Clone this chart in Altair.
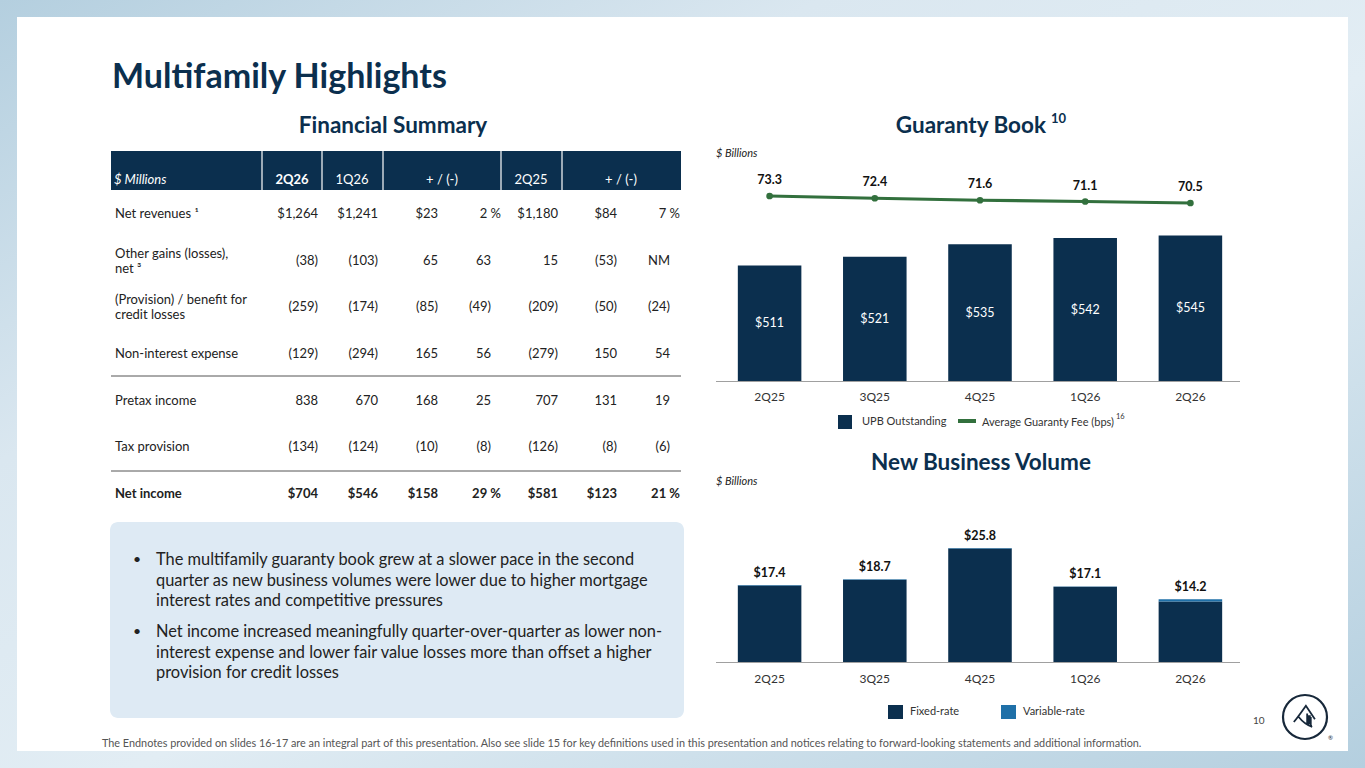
import altair as alt
import pandas as pd

# ---- data -------------------------------------------------------------
quarters = ["2Q25", "3Q25", "4Q25", "1Q26", "2Q26"]
upb_outstanding = [511, 521, 535, 542, 545]          # $ billions
avg_guaranty_fee = [73.3, 72.4, 71.6, 71.1, 70.5]    # bps
nbv_fixed = [17.3, 18.6, 25.7, 17.0, 13.7]           # $ billions
nbv_variable = [0.1, 0.1, 0.1, 0.1, 0.5]             # $ billions

row_labels = [
    "Net revenues \u00b9",
    "Other gains (losses),\nnet \u00b3",
    "(Provision) / benefit for\ncredit losses",
    "Non-interest expense",
    "Pretax income",
    "Tax provision",
    "Net income",
]
col_2q26 = ["$1,264", "(38)", "(259)", "(129)", "838", "(134)", "$704"]
col_1q26 = ["$1,241", "(103)", "(174)", "(294)", "670", "(124)", "$546"]
col_qoq_amt = ["$23", "65", "(85)", "165", "168", "(10)", "$158"]
col_qoq_pct = ["2 %", "63", "(49)", "56", "25", "(8)", "29 %"]
col_2q25 = ["$1,180", "15", "(209)", "(279)", "707", "(126)", "$581"]
col_yoy_amt = ["$84", "(53)", "(50)", "150", "131", "(8)", "$123"]
col_yoy_pct = ["7 %", "NM", "(24)", "54", "19", "(6)", "21 %"]
header_labels = ["$ Millions", "2Q26", "1Q26", "+ / (-)", "2Q25", "+ / (-)"]

bullets = [
    "The multifamily guaranty book grew at a slower pace in the second\n"
    "quarter as new business volumes were lower due to higher mortgage\n"
    "interest rates and competitive pressures",
    "Net income increased meaningfully quarter-over-quarter as lower non-\n"
    "interest expense and lower fair value losses more than offset a higher\n"
    "provision for credit losses",
]
footnote = ("The Endnotes provided on slides 16-17 are an integral part of this presentation. "
            "Also see slide 15 for key definitions used in this presentation and notices "
            "relating to forward-looking statements and additional information.")

# ---- styling ------------------------------------------------------------
FONT = "Lato"
NAVY = "#0b2f4e"
GREEN = "#32703d"
VAR_BLUE = "#1f70a8"
TEXT = "#222222"
W, H = 1365, 768

one = pd.DataFrame({"k": [0]})
base = alt.Chart(one)


def box(x0, x1, y0, y1, **kw):
    return base.mark_rect(**kw).encode(
        x=alt.value(x0), x2=alt.value(x1), y=alt.value(y0), y2=alt.value(y1))


def hline(x0, x1, y, color, width=1):
    return base.mark_rule(color=color, strokeWidth=width).encode(
        x=alt.value(x0), x2=alt.value(x1), y=alt.value(y))


def vline(x, y0, y1, color, width=1):
    return base.mark_rule(color=color, strokeWidth=width).encode(
        x=alt.value(x), y=alt.value(y0), y2=alt.value(y1))


def label(x, y, text, size=12, color=TEXT, align="left", weight="normal", style="normal", **kw):
    return base.mark_text(text=text, font=FONT, fontSize=size, color=color, align=align,
                          baseline="middle", fontWeight=weight, fontStyle=style, **kw).encode(
        x=alt.value(x), y=alt.value(y))


layers = []

# background and card
bg = alt.Gradient(gradient="linear", x1=0, y1=0, x2=1, y2=1, stops=[
    alt.GradientStop(color="#b4cfdf", offset=0),
    alt.GradientStop(color="#dae7f0", offset=0.3),
    alt.GradientStop(color="#e2edf4", offset=0.55),
    alt.GradientStop(color="#b4cfdf", offset=1),
])
layers.append(box(0, W, 0, H, color=bg))
layers.append(box(17, 1348, 17, 751, color="white"))

# titles
layers.append(label(112, 78, "Multifamily Highlights", size=34, color=NAVY, weight="bold"))
layers.append(label(393, 126, "Financial Summary", size=22.5, color=NAVY, weight="bold", align="center"))
layers.append(label(1046, 126, "Guaranty Book", size=22.5, color=NAVY, weight="bold", align="right"))
layers.append(label(1051, 119, "10", size=13, color=NAVY, weight="bold"))
layers.append(label(981, 463, "New Business Volume", size=22.5, color=NAVY, weight="bold", align="center"))

# ---- financial summary table --------------------------------------------
layers.append(box(111, 681, 151, 190, color=NAVY))
for xd in [262, 322, 383, 501, 562]:
    layers.append(vline(xd, 151, 190, "white", 1.2))
header_x = [114, 292, 352, 442, 531, 621]
for i, (hx, ht) in enumerate(zip(header_x, header_labels)):
    layers.append(label(hx, 180, ht, size=13, color="white",
                        align="left" if i == 0 else "center",
                        weight="bold" if ht == "2Q26" else "normal",
                        style="italic" if i == 0 else "normal"))
layers.append(hline(111, 681, 376, "#555555", 1))
layers.append(hline(111, 681, 471, "#555555", 1))

n_rows = len(row_labels)
table_cols = [
    ("label", row_labels, 115, "left"),
    ("c2q26", col_2q26, 318, "right"),
    ("c1q26", col_1q26, 378, "right"),
    ("cqa", col_qoq_amt, 438, "right"),
    ("cqp", col_qoq_pct, 501, "right"),
    ("c2q25", col_2q25, 558, "right"),
    ("cya", col_yoy_amt, 617, "right"),
    ("cyp", col_yoy_pct, 680, "right"),
]
row_y = alt.Y("row:O", scale=alt.Scale(type="point", domain=list(range(n_rows)),
                                        range=[214, 494], padding=0), axis=None)
for name, values, cx, align in table_cols:
    df = pd.DataFrame({
        "row": list(range(n_rows)),
        "txt": values,
        "bold": [r == n_rows - 1 for r in range(n_rows)],
        "pct": [v.endswith("%") for v in values],
        "two": ["\n" in v for v in values],
    })
    for bold in (False, True):
        sub = df[df["bold"] == bold]
        if name in ("cqp", "cyp"):
            # integers sit left of the percent sign column
            for pct in (True, False):
                part = sub[sub["pct"] == pct]
                if part.empty:
                    continue
                layers.append(alt.Chart(part).mark_text(
                    font=FONT, fontSize=13, color=TEXT, align=align, baseline="middle",
                    fontWeight="bold" if bold else "normal").encode(
                    x=alt.value(cx if pct else cx - 10), y=row_y, text="txt:N"))
        else:
            for two in (False, True):
                part = sub[sub["two"] == two]
                if part.empty:
                    continue
                layers.append(alt.Chart(part).mark_text(
                    font=FONT, fontSize=13, color=TEXT, align=align, baseline="middle",
                    lineBreak="\n", lineHeight=15, dy=-7 if two else 0,
                    fontWeight="bold" if bold else "normal").encode(
                    x=alt.value(cx), y=row_y, text="txt:N"))

# ---- commentary box -------------------------------------------------------
layers.append(box(110, 684, 522, 718, color="#deeaf4", cornerRadius=8))
for by, btxt in zip([560, 632], bullets):
    layers.append(label(133, by, "\u2022", size=14, color=TEXT))
    layers.append(base.mark_text(text=btxt.split("\n"), font=FONT, fontSize=16.4, color=TEXT,
                                 align="left", baseline="middle", lineHeight=20.5).encode(
        x=alt.value(156), y=alt.value(by)))

# ---- guaranty book chart ---------------------------------------------------
gb = pd.DataFrame({"quarter": quarters, "upb": upb_outstanding, "fee": avg_guaranty_fee})
qx = alt.X("quarter:N", scale=alt.Scale(type="band", domain=quarters, range=[716, 1244],
                                         paddingInner=0.396, paddingOuter=0.2075), axis=None)
UPB_BASE = 380
upb_scale = alt.Scale(domain=[UPB_BASE, 560], range=[381, 381 - 180 * 0.882])
fee_scale = alt.Scale(domain=[60, 80], range=[229.25, 179.25])

layers.append(label(716, 154, "$ Billions", size=11, color=TEXT, style="italic"))
layers.append(alt.Chart(gb).mark_bar(color=NAVY).encode(
    x=qx, y=alt.Y("upb:Q", scale=upb_scale, axis=None), y2=alt.datum(UPB_BASE)))
layers.append(alt.Chart(gb).transform_calculate(
    mid=f"(datum.upb + {UPB_BASE}) / 2", lbl="'$' + datum.upb").mark_text(
    font=FONT, fontSize=12.5, color="white", baseline="middle").encode(
    x=qx, y=alt.Y("mid:Q", scale=upb_scale, axis=None), text="lbl:N"))
layers.append(alt.Chart(gb).mark_line(color=GREEN, strokeWidth=3.2).encode(
    x=qx, y=alt.Y("fee:Q", scale=fee_scale, axis=None)))
layers.append(alt.Chart(gb).mark_circle(color=GREEN, size=45, opacity=1).encode(
    x=qx, y=alt.Y("fee:Q", scale=fee_scale, axis=None)))
layers.append(alt.Chart(gb).mark_text(
    font=FONT, fontSize=12.5, fontWeight="bold", color="#111111", baseline="middle", dy=-16).encode(
    x=qx, y=alt.Y("fee:Q", scale=fee_scale, axis=None), text=alt.Text("fee:Q", format=".1f")))
layers.append(hline(716, 1240, 381.5, "#a0a0a0", 1.2))
layers.append(alt.Chart(gb).mark_text(font=FONT, fontSize=12, color="#333333", baseline="middle").encode(
    x=qx, y=alt.value(397), text="quarter:N"))
# legend
layers.append(box(838, 852, 415, 429, color=NAVY))
layers.append(label(862, 422, "UPB Outstanding", size=11, color="#333333"))
layers.append(hline(958, 976, 421, GREEN, 4))
layers.append(label(982, 423, "Average Guaranty Fee (bps)", size=11, color="#333333"))
layers.append(label(1116, 417, "16", size=7.5, color="#333333"))

# ---- new business volume chart -----------------------------------------------
nbv = pd.DataFrame({"quarter": quarters, "fixed": nbv_fixed, "variable": nbv_variable})
nbv["total"] = (nbv["fixed"] + nbv["variable"]).round(1)
nbv_scale = alt.Scale(domain=[0, 30], range=[662, 662 - 30 * 4.42])

layers.append(label(716, 482, "$ Billions", size=11, color=TEXT, style="italic"))
layers.append(alt.Chart(nbv).mark_bar(color=NAVY).encode(
    x=qx, y=alt.Y("fixed:Q", scale=nbv_scale, axis=None), y2=alt.datum(0)))
layers.append(alt.Chart(nbv).mark_bar(color=VAR_BLUE).encode(
    x=qx, y=alt.Y("total:Q", scale=nbv_scale, axis=None), y2="fixed:Q"))
layers.append(alt.Chart(nbv).transform_calculate(lbl="'$' + format(datum.total, '.1f')").mark_text(
    font=FONT, fontSize=12.5, fontWeight="bold", color="#111111", baseline="middle", dy=-12).encode(
    x=qx, y=alt.Y("total:Q", scale=nbv_scale, axis=None), text="lbl:N"))
layers.append(hline(716, 1240, 662.5, "#a0a0a0", 1.2))
layers.append(alt.Chart(nbv).mark_text(font=FONT, fontSize=12, color="#333333", baseline="middle").encode(
    x=qx, y=alt.value(679), text="quarter:N"))
layers.append(box(888, 903, 705, 719, color=NAVY))
layers.append(label(910, 712, "Fixed-rate", size=11, color="#333333"))
layers.append(box(1001, 1016, 705, 719, color=VAR_BLUE))
layers.append(label(1023, 712, "Variable-rate", size=11, color="#333333"))

# ---- footer ---------------------------------------------------------------
layers.append(label(102, 744, footnote, size=10.85, color="#555555"))
layers.append(label(1253, 721, "10", size=10, color="#444444"))
layers.append(base.mark_point(shape="circle", size=1936, filled=False, color="#17283a",
                              strokeWidth=2.2, opacity=1).encode(x=alt.value(1305), y=alt.value(717)))
house = ("M -0.62 0.28 C -0.35 -0.05 -0.15 -0.35 0.05 -0.62 L 0.55 0.12 "
         "M -0.35 0.0 C -0.15 0.25 0.1 0.45 0.4 0.55 "
         "M 0.12 -0.2 L 0.12 0.45 M 0.32 0.0 L 0.32 0.52 "
         "M 0.17 -0.05 L 0.27 -0.05 L 0.27 0.12 L 0.17 0.12 Z "
         "M 0.17 0.2 L 0.27 0.2 L 0.27 0.36 L 0.17 0.36 Z")
layers.append(base.mark_point(shape=house, size=1300, filled=False, color="#17283a",
                              strokeWidth=1.8, opacity=1).encode(x=alt.value(1305), y=alt.value(717)))
layers.append(label(1328, 738, "\u00ae", size=6, color="#17283a"))

chart = alt.layer(*layers).resolve_scale(x="independent", y="independent").properties(
    width=W, height=H, padding=0, autosize=alt.AutoSizeParams(type="none"), background="white"
).configure_view(stroke=None)

chart.save("out.html", embed_options={"renderer": "svg", "actions": False})
